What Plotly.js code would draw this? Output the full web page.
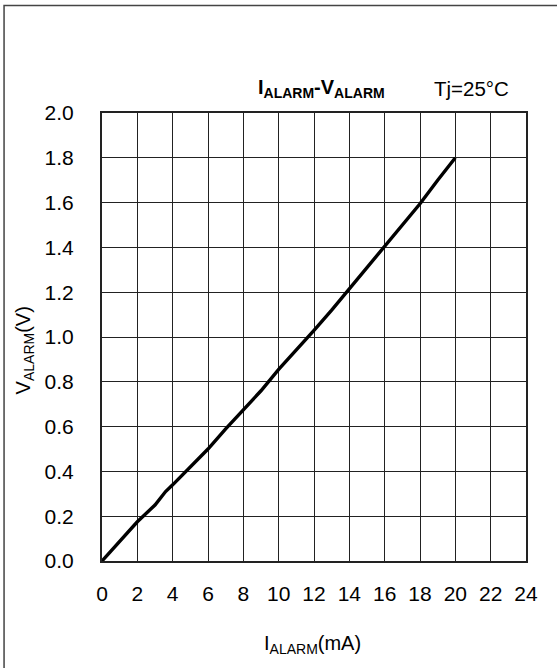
<!DOCTYPE html>
<html>
<head>
<meta charset="utf-8">
<script src="https://cdn.plot.ly/plotly-3.0.1.min.js"></script>
<style>html,body{margin:0;padding:0;background:#fff;}#chart{width:557px;height:668px;}</style>
</head>
<body>
<div id="chart"></div>
<script>
const iAlarm = [0, 1, 2, 3, 3.6, 4, 5, 6, 7, 8, 9, 10, 11, 12, 13, 14, 15, 16, 17, 18, 19, 20];
const vAlarm = [0, 0.09, 0.175, 0.25, 0.31, 0.34, 0.42, 0.50, 0.59, 0.675, 0.76, 0.855, 0.94, 1.03, 1.12, 1.215, 1.31, 1.405, 1.50, 1.595, 1.70, 1.80];
const xTicks = [0, 2, 4, 6, 8, 10, 12, 14, 16, 18, 20, 22, 24];
const yTicks = [0, 0.2, 0.4, 0.6, 0.8, 1.0, 1.2, 1.4, 1.6, 1.8, 2.0];

const font = 'Liberation Sans, Arial, sans-serif';

const trace = {
  x: iAlarm, y: vAlarm, type: 'scatter', mode: 'lines',
  line: {color: '#000', width: 3.4}, hoverinfo: 'skip'
};

const layout = {
  width: 557, height: 668,
  margin: {l: 102, r: 31, t: 112.5, b: 107},
  paper_bgcolor: '#fff', plot_bgcolor: '#fff',
  showlegend: false,
  font: {family: font, size: 20, color: '#000'},
  xaxis: {
    range: [0, 24], tickvals: xTicks, ticktext: xTicks.map(String),
    showgrid: true, gridcolor: '#222', gridwidth: 1,
    showline: true, linecolor: '#222', linewidth: 2, mirror: true,
    ticks: '', ticklabelstandoff: 13, zeroline: false,
    tickfont: {family: font, size: 21, color: '#000'}
  },
  yaxis: {
    range: [0, 2], tickvals: yTicks, ticktext: yTicks.map(v => v.toFixed(1)),
    showgrid: true, gridcolor: '#222', gridwidth: 1,
    showline: true, linecolor: '#222', linewidth: 2, mirror: true,
    ticks: '', ticklabelstandoff: 22, zeroline: false,
    tickfont: {family: font, size: 21, color: '#000'}
  },
  shapes: [{
    type: 'rect', xref: 'paper', yref: 'paper',
    x0: -0.231, x1: 1.3, y0: -0.4, y1: 1.2397,
    line: {color: '#444', width: 1.5}, fillcolor: 'rgba(0,0,0,0)'
  }],
  annotations: [
    {text: '<b>I<sub>ALARM</sub>-V<sub>ALARM</sub></b>', xref: 'paper', yref: 'paper',
     x: 0.3633, y: 1.054, xanchor: 'left', yanchor: 'middle', showarrow: false,
     font: {family: font, size: 20, color: '#000'}},
    {text: 'Tj=25°C', xref: 'paper', yref: 'paper',
     x: 0.872, y: 1.055, xanchor: 'center', yanchor: 'middle', showarrow: false,
     font: {family: font, size: 20.5, color: '#000'}},
    {text: 'I<sub>ALARM</sub>(mA)', xref: 'paper', yref: 'paper',
     x: 0.4976, y: -0.187, xanchor: 'center', yanchor: 'middle', showarrow: false,
     font: {family: font, size: 20, color: '#000'}},
    {text: 'V<sub>ALARM</sub>(V)', xref: 'paper', yref: 'paper',
     x: -0.184, y: 0.47, xanchor: 'center', yanchor: 'middle', showarrow: false, textangle: -90,
     font: {family: font, size: 20, color: '#000'}}
  ]
};

Plotly.newPlot('chart', [trace], layout, {displayModeBar: false, staticPlot: true});
</script>
</body>
</html>
